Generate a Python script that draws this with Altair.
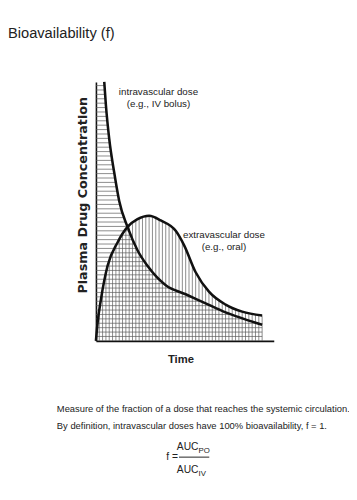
import altair as alt
import pandas as pd
import numpy as np

# --- data (arbitrary units: time 0-10, concentration 0-100) ---
iv_time = [0.5, 0.6, 0.8, 1.1, 1.4, 1.9, 2.5, 3.1, 4.2, 5.4, 6.6, 7.8, 8.9, 10.0]
iv_conc = [100, 91, 78, 65, 54, 44, 35, 29, 21.5, 18, 14.5, 11, 8.5, 6.2]
oral_time = [0, 0.1, 0.3, 0.7, 1.3, 1.9, 2.5, 3.2, 3.9, 4.8, 5.3, 6.0, 6.8, 7.8, 8.8, 10.0]
oral_conc = [0, 7, 16, 29, 38, 44, 47, 48.3, 46.5, 42.5, 37, 26.5, 19, 14, 11.3, 9.8]

title_text = "Bioavailability (f)"
iv_label = ["intravascular dose", "(e.g., IV bolus)"]
oral_label = ["extravascular dose", "(e.g., oral)"]
y_title = "Plasma Drug Concentration"
x_title = "Time"
note_lines = [
    "Measure of the fraction of a dose that reaches the systemic circulation.",
    "By definition, intravascular doses have 100% bioavailability, f = 1.",
]

# --- hatching derived from the curves ---
h_levels = np.arange(1.7, 100.01, 1.7)
h_end = np.interp(h_levels, iv_conc[::-1], iv_time[::-1])
hatch_h = pd.DataFrame({"t": 0.0, "t2": h_end, "c": h_levels})

v_pos = np.arange(0.2, 10.001, 0.2)
v_top = np.interp(v_pos, oral_time, oral_conc)
hatch_v = pd.DataFrame({"t": v_pos, "c": 0.0, "c2": v_top})

curves = pd.concat([
    pd.DataFrame({"t": iv_time, "c": iv_conc, "s": "iv"}),
    pd.DataFrame({"t": oral_time, "c": oral_conc, "s": "oral"}),
])

xs = alt.Scale(domain=[0, 10.7], nice=False, zero=False)
ys = alt.Scale(domain=[0, 100], nice=False, zero=False)
xa = alt.Axis(labels=False, ticks=False, grid=False, domainColor="#111", domainWidth=1.6, title=None)
ya = alt.Axis(labels=False, ticks=False, grid=False, domainColor="#111", domainWidth=1.6, title=None)

X = lambda: alt.X("t:Q", scale=xs, axis=xa, title=None)
Y = lambda: alt.Y("c:Q", scale=ys, axis=ya, title=None)

HATCH = "#5a5a5a"
TXT = "#222222"
SANS = "Liberation Sans, Arial, sans-serif"

h_layer = alt.Chart(hatch_h).mark_rule(color=HATCH, strokeWidth=0.7).encode(x=X(), x2="t2:Q", y=Y())
v_layer = alt.Chart(hatch_v).mark_rule(color=HATCH, strokeWidth=0.7).encode(x=X(), y=Y(), y2="c2:Q")
line_layer = alt.Chart(curves).mark_line(color="#111111", strokeWidth=2.6, interpolate="monotone").encode(
    x=X(), y=Y(), detail="s:N"
)


def txt(s, x, y, size=12, font=SANS, weight="normal", align="left", angle=0, baseline="alphabetic"):
    return alt.Chart(pd.DataFrame({"v": [s]})).mark_text(
        text=s, font=font, fontSize=size, fontWeight=weight, align=align, angle=angle,
        baseline=baseline, color=TXT,
    ).encode(x=alt.value(x), y=alt.value(y))


texts = [
    txt(title_text, -90, -45, size=15),
    txt(iv_label[0], 64, 13, size=10, align="center"),
    txt(iv_label[1], 64, 26, size=10, align="center"),
    txt(oral_label[0], 131, 160, size=10, align="center"),
    txt(oral_label[1], 131, 172, size=10, align="center"),
    txt(y_title, -13, 116, size=13, font="DejaVu Sans", weight="bold", align="center", angle=270, baseline="middle"),
    txt(x_title, 87, 285, size=11.5, weight="bold", align="center", baseline="middle"),
    txt(note_lines[0], -40, 338, size=9.6),
    txt(note_lines[1], -40, 355, size=9.6),
    txt("f =", 84, 384, size=10.5, align="right", baseline="middle"),
    txt("AUC", 105, 377, size=10.5, align="right"),
    txt("PO", 105, 380, size=8),
    txt("AUC", 105, 400, size=10.5, align="right"),
    txt("IV", 105, 403, size=8),
]

frac = alt.Chart(pd.DataFrame({"v": [0]})).mark_rule(color=TXT, strokeWidth=1).encode(
    x=alt.value(85), x2=alt.value(116), y=alt.value(384)
)

chart = alt.layer(h_layer, v_layer, line_layer, frac, *texts).properties(
    width=182,
    height=265,
    padding={"left": 90, "top": 70, "right": 77, "bottom": 149},
    autosize=alt.AutoSizeParams(type="none"),
    background="white",
).configure_view(stroke=None)

chart.save("out.html", embed_options={"renderer": "svg", "actions": False})
